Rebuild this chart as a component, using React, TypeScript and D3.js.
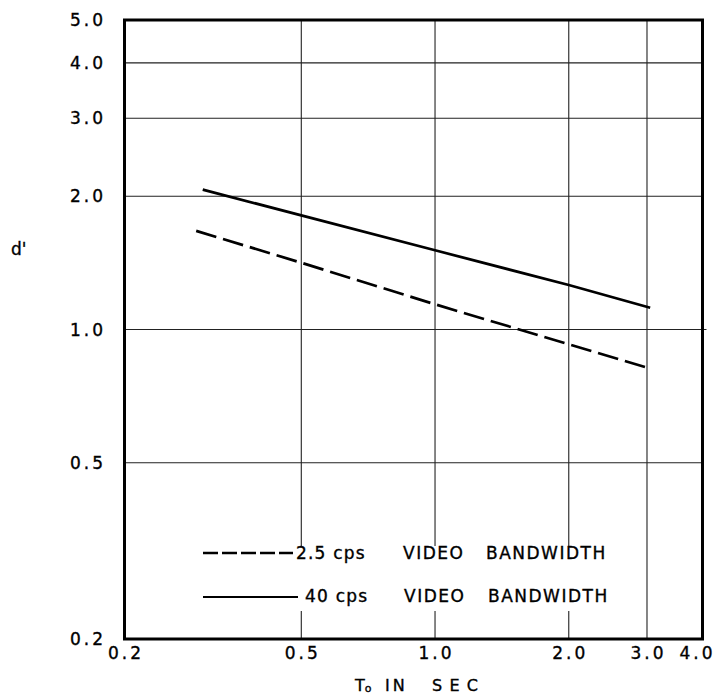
import React from "react";
import * as d3 from "d3";

const xTicks = [0.2, 0.5, 1.0, 2.0, 3.0, 4.0];
const xTickLabels = ["0.2", "0.5", "1.0", "2.0", "3.0", "4.0"];
const yTicks = [0.2, 0.5, 1.0, 2.0, 3.0, 4.0, 5.0];
const yTickLabels = ["0.2", "0.5", "1.0", "2.0", "3.0", "4.0", "5.0"];
const xGrid = [0.5, 1.0, 2.0, 3.0];
const yGrid = [0.5, 1.0, 2.0, 3.0, 4.0];

const bw25T = [0.29, 0.5, 1.0, 3.0];
const bw25D = [1.67, 1.415, 1.14, 0.82];
const bw40T = [0.3, 0.5, 1.0, 2.0, 3.05];
const bw40D = [2.07, 1.81, 1.51, 1.26, 1.12];

const series = [
  { name: "2.5 cps", t: bw25T, d: bw25D, dash: "21 7" },
  { name: "40 cps", t: bw40T, d: bw40D, dash: "none" },
];

const FONT = "'DejaVu Sans', sans-serif";
const txt = { fontFamily: FONT, fill: "#000", stroke: "#000", strokeWidth: 0.35 };

export default function App() {
  const W = 722, H = 698;
  const left = 124.5, right = 702.5, top = 20, bottom = 639;
  const x = d3.scaleLog().domain([0.2, 4]).range([left, right]);
  const y = d3.scaleLog().domain([0.2, 5]).range([bottom, top]);
  const line = d3
    .line<[number, number]>()
    .x((p) => x(p[0]))
    .y((p) => y(p[1]));

  const legTop = 546, legBottom = 611, legLeft = 198, legRight = 614;

  return (
    <svg width={W} height={H} style={{ position: "absolute", left: 0, top: 0, background: "#fff" }}>
      <rect x={0} y={0} width={W} height={H} fill="#fff" />
      {yGrid.map((v) => (
        <line key={"gy" + v} x1={left} x2={v === 1.0 ? right + 4 : right} y1={y(v)} y2={y(v)} stroke="#222" strokeWidth={1.1} />
      ))}
      {xGrid.map((v) => (
        <line key={"gx" + v} x1={x(v)} x2={x(v)} y1={top} y2={bottom} stroke="#222" strokeWidth={1.1} />
      ))}
      <rect x={legLeft} y={legTop} width={legRight - legLeft} height={legBottom - legTop} fill="#fff" />
      <rect x={left} y={top} width={right - left} height={bottom - top} fill="none" stroke="#000" strokeWidth={3} />
      {series.map((s) => (
        <path
          key={s.name}
          d={line(s.t.map((t, i) => [t, s.d[i]] as [number, number])) || ""}
          fill="none"
          stroke="#000"
          strokeWidth={2.7}
          strokeDasharray={s.dash}
        />
      ))}
      {yTicks.map((v, i) => (
        <text key={"yl" + v} x={106} y={y(v)} dy="0.36em" textAnchor="end" fontSize={17} letterSpacing={3} {...txt}>
          {yTickLabels[i]}
        </text>
      ))}
      {xTicks.map((v, i) => (
        <text key={"xl" + v} x={x(v) + (i === xTicks.length - 1 ? -5 : 1.5)} y={659} textAnchor="middle" fontSize={17} letterSpacing={3} {...txt}>
          {xTickLabels[i]}
        </text>
      ))}
      <line x1={203} x2={293} y1={553} y2={553} stroke="#000" strokeWidth={2.6} strokeDasharray="15 4" />
      <text x={296} y={559} fontSize={17} letterSpacing={1.2} {...txt}>2.5 cps</text>
      <text x={403} y={559} fontSize={17} letterSpacing={1.5} {...txt}>VIDEO</text>
      <text x={486} y={559} fontSize={17} letterSpacing={1.5} {...txt}>BANDWIDTH</text>
      <line x1={203} x2={298} y1={597} y2={597} stroke="#000" strokeWidth={1.8} />
      <text x={305} y={602} fontSize={17} letterSpacing={1.2} {...txt}>40 cps</text>
      <text x={404} y={602} fontSize={17} letterSpacing={1.5} {...txt}>VIDEO</text>
      <text x={488} y={602} fontSize={17} letterSpacing={1.5} {...txt}>BANDWIDTH</text>
      <text x={355} y={691} fontSize={16} {...txt}>
        T<tspan fontSize={11} dy={1}>o</tspan>
      </text>
      <text x={385} y={691} fontSize={16} letterSpacing={3} {...txt}>IN</text>
      <text x={432} y={691} fontSize={16} textLength={46} lengthAdjust="spacing" {...txt}>SEC</text>
      <text x={11} y={255} fontSize={17} {...txt}>d'</text>
    </svg>
  );
}
